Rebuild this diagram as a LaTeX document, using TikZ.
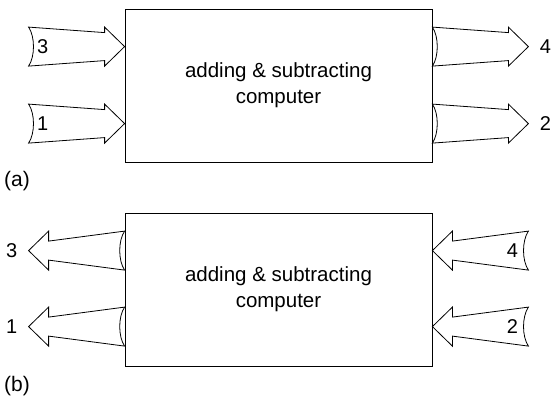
\documentclass[tikz,border=0pt]{standalone}
\usepackage{fontspec}
\setmainfont{Liberation Sans}
\usetikzlibrary{calc}

\tikzset{
	box/.style={draw, line width=0.8pt, minimum width=307pt, minimum height=153pt,
		inner sep=0pt, align=center, font=\fontsize{20.5}{26}\selectfont},
	num/.style={inner sep=0pt, font=\fontsize{20}{24}\selectfont},
	pics/fatarrow/.style={code={
		\draw[line width=0.8pt] (0, -19.5) --
			(76, -#1) --
			(76, -19.5) --
			(96, 0) --
			(76, 19.5) --
			(76, #1) --
			(0, 19.5) .. controls (6.5, 10) and (6.5, -10) ..
			(0, -19.5) -- cycle;
	}}
}

\begin{document}
\begin{tikzpicture}[x=1pt, y=-1pt]
\useasboundingbox (0, 0) rectangle (552, 399);

% (a)
\node[box] (boxa) at (278.5, 85.5) {adding \& subtracting\\computer};
\foreach \n/\dy in {3/38, 1/115} {
	\coordinate (ina\n) at ($(boxa.north west)+(0, \dy)$);
	\pic at ($(ina\n)+(-96, 0)$) {fatarrow=14};
	\node[num] (la\n) at ($(ina\n)+(-82, 0)$) {\n};
}
\foreach \n/\dy in {4/38, 2/115} {
	\coordinate (outa\n) at ($(boxa.north east)+(0, \dy)$);
	\pic at (outa\n) {fatarrow=14};
	\node[num] (la\n) at ($(outa\n)+(113, 0)$) {\n};
}
\node[anchor=west, inner sep=0pt, font=\fontsize{21}{24}\selectfont] (capa) at (4, 181) {(a)};

% (b)
\node[box] (boxb) at (278.5, 289.5) {adding \& subtracting\\computer};
\foreach \n/\dy in {3/38, 1/114} {
	\coordinate (outb\n) at ($(boxb.north west)+(0, \dy)$);
	\pic[rotate=180] at (outb\n) {fatarrow=9.5};
	\node[num] (lb\n) at ($(outb\n)+(-113, 0)$) {\n};
}
\foreach \n/\dy in {4/38, 2/114} {
	\coordinate (inb\n) at ($(boxb.north east)+(0, \dy)$);
	\pic[rotate=180] at ($(inb\n)+(96, 0)$) {fatarrow=9.5};
	\node[num] (lb\n) at ($(inb\n)+(80, 0)$) {\n};
}
\node[anchor=west, inner sep=0pt, font=\fontsize{21}{24}\selectfont] (capb) at (4, 386) {(b)};

\end{tikzpicture}
\end{document}
